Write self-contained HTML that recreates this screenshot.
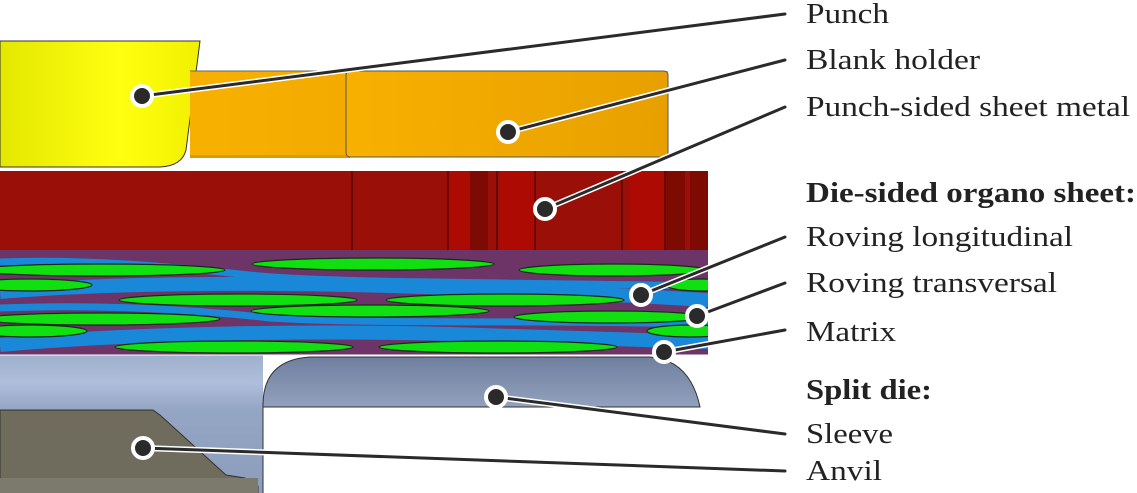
<!DOCTYPE html>
<html><head><meta charset="utf-8"><style>
html,body{margin:0;padding:0;background:#fff;width:1137px;height:493px;overflow:hidden}
svg{display:block}
text{font-family:"Liberation Serif",serif;font-size:29px;fill:#222}
</style></head><body>
<svg width="1137" height="493" viewBox="0 0 1137 493">
<defs>
<linearGradient id="yel" x1="0" x2="1"><stop offset="0" stop-color="#e4e800"/><stop offset="0.6" stop-color="#ffff10"/><stop offset="1" stop-color="#f0f000"/></linearGradient>
<linearGradient id="org" x1="0" x2="1"><stop offset="0" stop-color="#f8b000"/><stop offset="1" stop-color="#e8a000"/></linearGradient>
<linearGradient id="die" x1="0" y1="0" x2="0" y2="1"><stop offset="0" stop-color="#9fb0cc"/><stop offset="0.2" stop-color="#aebedb"/><stop offset="0.4" stop-color="#95a6c4"/><stop offset="1" stop-color="#8c9dbd"/></linearGradient>
<linearGradient id="slv" x1="0" y1="0" x2="0" y2="1"><stop offset="0" stop-color="#6f7f9e"/><stop offset="0.6" stop-color="#a8b6d0"/><stop offset="1" stop-color="#8090ad"/></linearGradient>
<clipPath id="oc"><rect x="0" y="250" width="708" height="105"/></clipPath>
</defs>
<path d="M0,41 L200,41 L186,150 Q182,166 160,167 L0,167 Z" fill="url(#yel)" stroke="#333" stroke-width="1"/>
<rect x="190" y="71" width="478" height="86" fill="url(#org)"/>
<rect x="190" y="155" width="160" height="3" fill="#e09800"/>
<rect x="346" y="71" width="322" height="86" rx="4" fill="url(#org)" stroke="#555" stroke-width="1"/>
<path d="M190,71 L346,71" stroke="#666" stroke-width="1"/>
<rect x="0" y="171" width="708" height="79" fill="#9a1008"/>
<rect x="448" y="171" width="22" height="79" fill="#ac0a02"/>
<rect x="470" y="171" width="18" height="79" fill="#7e0a04"/>
<rect x="500" y="171" width="35" height="79" fill="#ac0a02"/>
<rect x="630" y="171" width="35" height="79" fill="#ac0a02"/>
<rect x="665" y="171" width="20" height="79" fill="#7e0a04"/>
<rect x="690" y="171" width="18" height="79" fill="#7e0a04"/>
<g stroke="#3a0000" stroke-width="1"><line x1="352" y1="171" x2="352" y2="250"/><line x1="448" y1="171" x2="448" y2="250"/><line x1="497" y1="171" x2="497" y2="250"/><line x1="535" y1="171" x2="535" y2="250"/><line x1="622" y1="171" x2="622" y2="250"/><line x1="665" y1="171" x2="665" y2="250"/></g>
<g clip-path="url(#oc)">
<rect x="0" y="250" width="708" height="105" fill="#6d3468"/>
<g fill="none" stroke="#1a88d8">
<path d="M0,262 C100,258 200,270 260,276 C340,283 500,282 708,286" stroke-width="7"/>
<path d="M0,292 C120,282 300,282 450,288 C560,292 640,296 708,300" stroke-width="14"/>
<path d="M0,308 C100,304 200,310 270,318 C360,324 520,320 708,324" stroke-width="7"/>
<path d="M0,345 C120,334 300,330 450,334 C560,337 640,340 708,342" stroke-width="14"/>
</g>
<g fill="#10e010" stroke="#1a2a1a" stroke-width="1.2">
<ellipse cx="373" cy="264" rx="121" ry="6"/>
<ellipse cx="100" cy="270" rx="125" ry="6"/>
<ellipse cx="613" cy="270" rx="94" ry="6"/>
<ellipse cx="30" cy="285" rx="62" ry="6"/>
<ellipse cx="700" cy="285" rx="34" ry="6"/>
<ellipse cx="238" cy="300" rx="119" ry="6"/>
<ellipse cx="505" cy="300" rx="119" ry="6"/>
<ellipse cx="370" cy="311" rx="119" ry="6"/>
<ellipse cx="610" cy="317" rx="96" ry="6"/>
<ellipse cx="100" cy="319" rx="120" ry="6"/>
<ellipse cx="30" cy="331" rx="57" ry="6"/>
<ellipse cx="690" cy="331" rx="43" ry="6"/>
<ellipse cx="234" cy="347" rx="119" ry="6"/>
<ellipse cx="498" cy="347" rx="119" ry="6"/>
</g>
</g>
<rect x="0" y="355" width="263" height="138" fill="url(#die)"/>
<path d="M263,493 L263,405 Q263,360 310,357 L650,357 Q690,360 700,407 L263,407" fill="url(#slv)" stroke="#333" stroke-width="1"/>
<line x1="263" y1="407" x2="263" y2="493" stroke="#333" stroke-width="1"/>
<line x1="0" y1="355" x2="708" y2="355" stroke="#fff" stroke-width="1"/>
<path d="M0,410 L153,410 L160,415 L226,475 L245,478 L258,486 L258,493 L0,493 Z" fill="#6f6c5e" stroke="#333" stroke-width="1"/>
<rect x="0" y="478" width="258" height="15" fill="#7c7a6c"/>
<g stroke-linecap="round">
<g stroke="#fff" stroke-width="6">
<line x1="142" y1="96" x2="785" y2="14"/><line x1="508" y1="132" x2="785" y2="60"/><line x1="545" y1="209" x2="785" y2="107"/><line x1="641" y1="295" x2="785" y2="237"/><line x1="697" y1="316" x2="785" y2="283"/><line x1="664" y1="352" x2="785" y2="330"/><line x1="496" y1="397" x2="785" y2="434"/><line x1="143" y1="448" x2="785" y2="471"/>
</g>
<g stroke="#2a2a2a" stroke-width="3">
<line x1="142" y1="96" x2="785" y2="14"/><line x1="508" y1="132" x2="785" y2="60"/><line x1="545" y1="209" x2="785" y2="107"/><line x1="641" y1="295" x2="785" y2="237"/><line x1="697" y1="316" x2="785" y2="283"/><line x1="664" y1="352" x2="785" y2="330"/><line x1="496" y1="397" x2="785" y2="434"/><line x1="143" y1="448" x2="785" y2="471"/>
</g>
<g fill="#2a2a2a" stroke="#fff" stroke-width="4">
<circle cx="142" cy="96" r="10"/><circle cx="508" cy="132" r="10"/><circle cx="545" cy="209" r="10"/><circle cx="641" cy="295" r="10"/><circle cx="697" cy="316" r="10"/><circle cx="664" cy="352" r="10"/><circle cx="496" cy="397" r="10"/><circle cx="143" cy="448" r="10"/>
</g>
</g>
<text x="806" y="23" textLength="83" lengthAdjust="spacingAndGlyphs">Punch</text>
<text x="806" y="69" textLength="174" lengthAdjust="spacingAndGlyphs">Blank holder</text>
<text x="806" y="116" textLength="324" lengthAdjust="spacingAndGlyphs">Punch-sided sheet metal</text>
<text x="806" y="202" font-weight="bold" textLength="330" lengthAdjust="spacingAndGlyphs">Die-sided organo sheet:</text>
<text x="806" y="246" textLength="267" lengthAdjust="spacingAndGlyphs">Roving longitudinal</text>
<text x="806" y="292" textLength="251" lengthAdjust="spacingAndGlyphs">Roving transversal</text>
<text x="806" y="341" textLength="90" lengthAdjust="spacingAndGlyphs">Matrix</text>
<text x="806" y="399" font-weight="bold" textLength="126" lengthAdjust="spacingAndGlyphs">Split die:</text>
<text x="806" y="443" textLength="87" lengthAdjust="spacingAndGlyphs">Sleeve</text>
<text x="806" y="480" textLength="76" lengthAdjust="spacingAndGlyphs">Anvil</text>
</svg>
</body></html>
